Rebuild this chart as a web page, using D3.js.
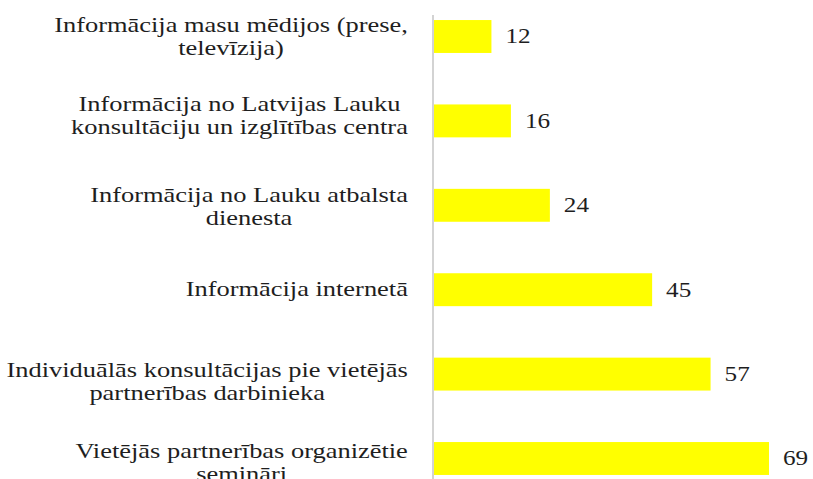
<!DOCTYPE html>
<html>
<head>
<meta charset="UTF-8">
<script src="https://d3js.org/d3.v7.min.js"></script>
<style>
  body { margin: 0; background: #fff; }
  text { font-family: "Liberation Serif", "Times New Roman", serif; fill: #1e1e1e; }
</style>
</head>
<body>
<svg width="813" height="479"></svg>
<script>
// chart data
const categories = [
  "Informācija masu mēdijos (prese,|televīzija)",
  "Informācija no Latvijas Lauku|konsultāciju un izglītības centra",
  "Informācija no Lauku atbalsta|dienesta",
  "Informācija internetā",
  "Individuālās konsultācijas pie vietējās|partnerības darbinieka",
  "Vietējās partnerības organizētie|semināri"
];
const values = [12, 16, 24, 45, 57, 69];

// small vertical nudges of the category labels (the original is uneven)
const labelNudge = [0, -5, 1, -1, 7, 4.5];

const width = 813, height = 479;
const axisX = 433;
const labelRight = 408;

const svg = d3.select('svg');

// scales
const xScale = d3.scaleLinear().domain([0, 69]).range([axisX, 769]);
const yScale = d3.scaleBand()
  .domain(categories)
  .range([-5.7, 500.7])
  .paddingInner(0.61)
  .paddingOuter(0.305);

// faint axis line
svg.append('line')
  .attr('x1', axisX).attr('x2', axisX)
  .attr('y1', 15).attr('y2', height)
  .attr('stroke', '#d3d3d3')
  .attr('stroke-width', 2);

// bars
svg.selectAll('rect.bar')
  .data(values)
  .enter()
  .append('rect')
  .attr('class', 'bar')
  .attr('x', xScale(0) + 1)
  .attr('y', (d, i) => yScale(categories[i]))
  .attr('width', d => xScale(d) - xScale(0) - 1)
  .attr('height', yScale.bandwidth())
  .attr('fill', '#ffff00');

// value labels
svg.selectAll('text.value')
  .data(values)
  .enter()
  .append('text')
  .attr('class', 'value')
  .attr('x', d => xScale(d) + 14)
  .attr('y', (d, i) => yScale(categories[i]) + yScale.bandwidth() / 2 + 7)
  .attr('font-size', '21px')
  .attr('transform-origin', d => (xScale(d) + 14) + 'px 0px')
  .style('transform', 'scaleX(1.2)')
  .text(d => d);

// category labels, block right aligned, lines centered in block
const fontSize = 20.5;
const lineH = 23;
const sx = 1.29;
categories.forEach((c, i) => {
  const lines = c.split('|');
  const cy = yScale(c) + yScale.bandwidth() / 2 + labelNudge[i];
  const g = svg.append('g');
  const texts = lines.map((ln, j) => g.append('text')
    .attr('font-size', fontSize + 'px')
    .attr('text-anchor', 'middle')
    .attr('y', cy + 7 + (j - (lines.length - 1) / 2) * lineH)
    .text(ln));
  const w = d3.max(texts, t => t.node().getComputedTextLength());
  // stretch horizontally around the right edge like the original
  g.attr('transform', `translate(${labelRight},0) scale(${sx},1) translate(${-w / 2},0)`);
});
</script>
</body>
</html>
